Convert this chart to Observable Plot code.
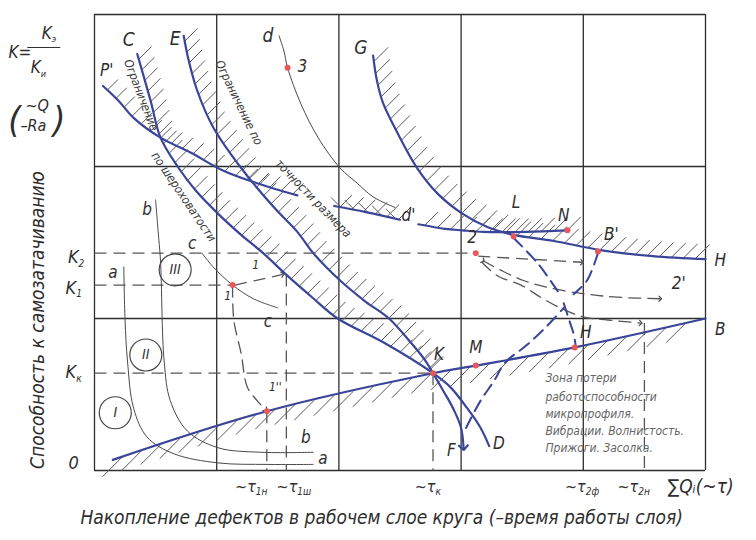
<!DOCTYPE html>
<html><head><meta charset="utf-8">
<script src="https://cdn.jsdelivr.net/npm/d3@7"></script>
<script src="https://cdn.jsdelivr.net/npm/@observablehq/plot@0.6"></script>
<style>body{margin:0;background:#fff}svg{display:block}</style>
</head><body><div id="chart"></div>
<script>
// ---- data (grid units: x 0..5 columns, y 0..3 rows) ----
const gridX = [0, 1, 2, 3, 4, 5];
const gridY = [0, 1, 2, 3];

// blue limit curves
const curveC = [[0.35,2.74],[0.46,2.43],[0.54,2.19],[0.68,2.0],[0.83,1.84],[1.01,1.69],[1.20,1.55],[1.38,1.43],[1.58,1.28],[1.78,1.14],[1.99,1.0],[2.37,0.84],[2.77,0.64],[2.91,0.55],[3.05,0.41],[3.16,0.28],[3.23,0.16]];
const curveE = [[0.73,2.86],[0.77,2.70],[0.84,2.50],[0.97,2.26],[1.20,1.99],[1.47,1.73],[1.66,1.57],[1.79,1.43],[2.01,1.25],[2.22,1.11],[2.41,1.0],[2.59,0.84],[2.71,0.72],[2.77,0.64],[2.85,0.53],[2.94,0.40],[3.00,0.28],[3.02,0.15]];
const curveP = [[0.07,2.53],[0.20,2.43],[0.32,2.32],[0.54,2.19],[0.79,2.09],[1.06,1.97],[1.33,1.89],[1.66,1.81]];
const curveG = [[2.28,2.73],[2.31,2.57],[2.36,2.42],[2.48,2.22],[2.64,1.99],[2.81,1.82],[3.01,1.69],[3.22,1.60],[3.43,1.55],[3.76,1.51],[4.14,1.45],[4.57,1.41],[5.0,1.39]];
const lineD1 = [[1.96,1.74],[2.22,1.70],[2.50,1.65]];
const lineD2 = [[2.65,1.62],[2.87,1.59],[3.01,1.58],[3.18,1.57],[3.53,1.57],[3.87,1.58]];
const lineOB = [[0.15,0.07],[1.41,0.39],[2.77,0.64],[3.12,0.69],[3.93,0.81],[5.0,1.0]];

// blue dashed transitions
const dashLX = [[3.43,1.53],[3.63,1.36],[3.79,1.18]];
const dashBX = [[4.12,1.43],[4.03,1.25],[3.92,1.16]];
const dashXH = [[3.84,1.10],[3.88,1.0],[3.92,0.90],[3.94,0.81]];
const dashFX = [[3.04,0.28],[3.16,0.46],[3.27,0.59],[3.36,0.71],[3.53,0.82],[3.69,0.94],[3.84,1.07]];

// thin grey curves a, b, c, d
const curveA = [[0.24,1.34],[0.25,0.99],[0.27,0.72],[0.32,0.41],[0.43,0.22],[0.65,0.11],[1.01,0.05],[1.42,0.04],[1.79,0.04]];
const curveB = [[0.50,1.78],[0.52,1.58],[0.54,1.38],[0.57,0.72],[0.62,0.46],[0.76,0.26],[1.01,0.15],[1.36,0.12],[1.79,0.12]];
const curveSmallC = [[0.88,1.43],[0.97,1.34],[1.13,1.22],[1.30,1.13],[1.50,1.07]];
const curveD = [[1.51,2.86],[1.55,2.76],[1.58,2.65],[1.69,2.41],[1.83,2.19],[2.01,1.99],[2.15,1.89],[2.28,1.80],[2.46,1.73]];

// black dashed guides
const guideSegs = [
  {x1:0, y1:1.43, x2:3.12, y2:1.43},   // K2
  {x1:0, y1:1.22, x2:1.13, y2:1.22},   // K1
  {x1:0, y1:0.64, x2:2.77, y2:0.64},   // Kk
  {x1:1.41, y1:0.39, x2:1.41, y2:0},   // tau1n
  {x1:1.57, y1:1.29, x2:1.57, y2:0},   // tau1sh
  {x1:2.77, y1:0.64, x2:2.77, y2:0},   // tauk
  {x1:4.50, y1:0.97, x2:4.50, y2:0}    // tau2n
];
const guideArrows = [
  {x1:3.14, y1:1.41, x2:3.99, y2:1.37},
  {x1:1.15, y1:1.22, x2:1.54, y2:1.29}
];
const path1 = [[1.13,1.22],[1.14,0.99],[1.20,0.77],[1.25,0.55],[1.33,0.46],[1.40,0.40]];
const path2a = [[3.18,1.38],[3.32,1.32],[3.51,1.25],[3.73,1.20],[4.03,1.16],[4.28,1.14],[4.63,1.13]];
const path2b = [[3.17,1.37],[3.30,1.28],[3.49,1.22],[3.65,1.14],[3.81,1.07],[4.00,1.01],[4.20,0.99],[4.47,0.97]];

// red points
const points = [
  {n:"3", x:1.58, y:2.65}, {n:"1", x:1.13, y:1.22}, {n:"1''", x:1.41, y:0.39},
  {n:"K", x:2.77, y:0.64}, {n:"M", x:3.12, y:0.69}, {n:"H", x:3.93, y:0.81},
  {n:"2", x:3.12, y:1.43}, {n:"L", x:3.43, y:1.54}, {n:"N", x:3.87, y:1.58},
  {n:"B'", x:4.12, y:1.44}
];

// labels
const curveNames = [
  {t:"C", x:0.28, y:2.83}, {t:"E", x:0.66, y:2.84}, {t:"d", x:1.42, y:2.86}, {t:"G", x:2.18, y:2.78}
];
const pointNames = [
  {t:"3", x:1.70, y:2.66}, {t:"P'", x:0.10, y:2.63}, {t:"d'", x:2.57, y:1.68},
  {t:"L", x:3.45, y:1.76}, {t:"N", x:3.84, y:1.68}, {t:"B'", x:4.23, y:1.55},
  {t:"H", x:5.12, y:1.38}, {t:"2", x:3.09, y:1.53}, {t:"2'", x:4.78, y:1.23},
  {t:"B", x:5.12, y:0.93}, {t:"H", x:4.02, y:0.91}, {t:"M", x:3.12, y:0.81},
  {t:"K", x:2.82, y:0.76}, {t:"F", x:2.92, y:0.13}, {t:"D", x:3.31, y:0.18},
  {t:"a", x:0.15, y:1.30}, {t:"a", x:1.87, y:0.08}, {t:"b", x:0.43, y:1.72},
  {t:"b", x:1.73, y:0.22}, {t:"c", x:0.80, y:1.49}, {t:"c", x:1.42, y:0.98}
];
const smallNames = [
  {t:"1", x:1.32, y:1.35}, {t:"1", x:1.09, y:1.15}, {t:"1''", x:1.48, y:0.55}
];
const zones = [{t:"I", x:0.17, y:0.38}, {t:"II", x:0.42, y:0.76}, {t:"III", x:0.66, y:1.32}];
const limitTexts = [
  {t:"Ограничение", x:0.38, y:2.47, a:69},
  {t:"по шероховатости", x:0.73, y:1.80, a:56},
  {t:"Ограничение по", x:1.18, y:2.42, a:64},
  {t:"точности размера", x:1.79, y:1.79, a:46}
];
const zoneText = [
  "Зона потери", "работоспособности", "микропрофиля.", "Вибрации. Волнистость.", "Прижоги. Засолка."
];
const zoneTextX = 3.69, zoneTextY = [0.61, 0.48, 0.37, 0.26, 0.145];

const yTicks = [
  {main:"K", sub:"2", x:-0.13, y:1.40},
  {main:"K", sub:"1", x:-0.15, y:1.20},
  {main:"K", sub:"к", x:-0.15, y:0.645}
];
const xTicks = [
  {main:"~τ", sub:"1н", x:1.32},
  {main:"~τ", sub:"1ш", x:1.66},
  {main:"~τ", sub:"к", x:2.79},
  {main:"~τ", sub:"2ф", x:4.02},
  {main:"~τ", sub:"2н", x:4.45}
];
const xTickY = -0.11;
const yTitle = "Способность к самозатачиванию";
const xTitle = "Накопление дефектов в рабочем слое круга (–время работы слоя)";

// ---- layout ----
const W = 756, H = 540, ML = 94, MR = 51, MT = 14, MB = 70;
const SX = (W - ML - MR) / 5, SY = (H - MT - MB) / 3;
const BLUE = "#3a4599", GREY = "#555", RED = "#e8585a", INK = "#2e2e2e";
const FONT = "'DejaVu Sans Condensed','Liberation Sans Narrow','DejaVu Sans',sans-serif";

const rows = arr => arr.map(([x, y]) => ({x, y}));
function hatch(arr, spacing, len, deg) {
  const a = deg * Math.PI / 180, ux = Math.cos(a) * len / SX, uy = Math.sin(a) * len / SY;
  const out = []; let carry = spacing * 0.5;
  for (let i = 1; i < arr.length; i++) {
    const [x0, y0] = arr[i - 1], [x1, y1] = arr[i];
    const d = Math.hypot((x1 - x0) * SX, (y1 - y0) * SY);
    let s = carry;
    while (s <= d) {
      const t = s / d, x = x0 + (x1 - x0) * t, y = y0 + (y1 - y0) * t;
      out.push({x1: x, y1: y, x2: x + ux, y2: y + uy});
      s += spacing;
    }
    carry = s - d;
  }
  return out;
}
const hatches = [
  ...hatch(curveC.slice(0, 13), 11, 18, 45),
  ...hatch(curveE.slice(0, 14), 11, 18, 45),
  ...hatch(curveP, 12, 15, 45),
  ...hatch(curveG, 12, 20, 45),
  ...hatch(lineD1, 12, 17, 45),
  ...hatch(lineD1, 14, 14, 135),
  ...hatch(lineD2, 13, 19, 45),
  ...hatch(lineOB, 20, 28, 225)
];

const txt = (data, size, extra = {}) => Plot.text(data, {x: "x", y: "y", text: "t", fontSize: size, fontStyle: "italic", fill: INK, ...extra});
const solid = (arr, extra = {}) => Plot.line(rows(arr), {x: "x", y: "y", curve: "catmull-rom", stroke: BLUE, strokeWidth: 2.2, ...extra});
const thin = arr => Plot.line(rows(arr), {x: "x", y: "y", curve: "catmull-rom", stroke: "#4a4a4a", strokeWidth: 1});
const bdash = arr => Plot.line(rows(arr), {x: "x", y: "y", curve: "catmull-rom", stroke: BLUE, strokeWidth: 2, strokeDasharray: "12,7"});
const gdash = (arr, extra = {}) => Plot.line(rows(arr), {x: "x", y: "y", curve: "catmull-rom", stroke: GREY, strokeWidth: 1.3, strokeDasharray: "12,7", ...extra});

const chart = Plot.plot({
  width: W, height: H, marginLeft: ML, marginRight: MR, marginTop: MT, marginBottom: MB,
  x: {domain: [0, 5], axis: null},
  y: {domain: [0, 3], axis: null},
  style: {fontFamily: FONT, background: "#fff"},
  marks: [
    Plot.ruleX(gridX, {stroke: INK, strokeWidth: 1.3}),
    Plot.ruleY(gridY, {stroke: INK, strokeWidth: 1.3}),
    Plot.link(hatches, {x1: "x1", y1: "y1", x2: "x2", y2: "y2", stroke: "#5a5a5a", strokeWidth: 1}),
    Plot.link(guideSegs, {x1: "x1", y1: "y1", x2: "x2", y2: "y2", stroke: GREY, strokeWidth: 1.3, strokeDasharray: "12,7"}),
    Plot.link(guideArrows, {x1: "x1", y1: "y1", x2: "x2", y2: "y2", stroke: GREY, strokeWidth: 1.3, strokeDasharray: "12,7", markerEnd: "arrow"}),
    gdash(path1, {markerEnd: "arrow"}),
    gdash(path2a, {markerEnd: "arrow", markerStart: "arrow"}),
    gdash(path2b, {markerEnd: "arrow"}),
    thin(curveA), thin(curveB), thin(curveSmallC), thin(curveD),
    solid(curveC), solid(curveE, {markerEnd: "arrow"}), solid(curveP), solid(curveG),
    solid(lineD1), solid(lineD2), solid(lineOB),
    bdash(dashLX), bdash(dashBX), bdash(dashXH), bdash(dashFX),
    Plot.dot(points, {x: "x", y: "y", r: 3, fill: RED}),
    Plot.dot(zones, {x: "x", y: "y", r: 16, stroke: "#444", strokeWidth: 1.2, fill: "none"}),
    txt(zones, 14),
    txt(curveNames, 19),
    txt(pointNames, 17),
    txt(smallNames, 12),
    Plot.text(limitTexts, {x: "x", y: "y", text: "t", rotate: "a", fontSize: 12, fontStyle: "italic", fill: "#3a3a3a"}),
    Plot.text(zoneText, {x: () => zoneTextX, y: (d, i) => zoneTextY[i], text: d => d, textAnchor: "start", fontSize: 12, fontStyle: "italic", fill: "#666"}),
    // y tick labels
    Plot.text(yTicks, {x: "x", y: "y", text: "main", textAnchor: "end", fontSize: 18, fontStyle: "italic", fill: INK}),
    Plot.text(yTicks, {x: "x", y: "y", text: "sub", textAnchor: "start", dy: 6, fontSize: 10, fontStyle: "italic", fill: INK}),
    Plot.text([{t: "0", x: -0.17, y: 0.05}], {x: "x", y: "y", text: "t", fontSize: 18, fontStyle: "italic", fill: INK}),
    // x tick labels
    Plot.text(xTicks, {x: "x", y: () => xTickY, text: "main", textAnchor: "end", fontSize: 16, fontStyle: "italic", fill: INK}),
    Plot.text(xTicks, {x: "x", y: () => xTickY, text: "sub", textAnchor: "start", dy: 5, fontSize: 10, fontStyle: "italic", fill: INK}),
    Plot.text([{t: "∑Qᵢ(~τ)", x: 4.96, y: -0.11}], {x: "x", y: "y", text: "t", fontSize: 19, fontStyle: "italic", fill: INK}),
    // titles
    Plot.text([xTitle], {x: () => 2.35, y: () => -0.31, text: d => d, fontSize: 19, fontStyle: "italic", fill: INK}),
    Plot.text([yTitle], {x: () => -0.46, y: () => 0.99, text: d => d, rotate: -90, fontSize: 19, fontStyle: "italic", fill: INK}),
    // formula K = Kэ / Kи and (~Q / -Ra)
    Plot.text([{t: "K=", x: -0.61, y: 2.75}], {x: "x", y: "y", text: "t", fontSize: 17, fontStyle: "italic", fill: INK}),
    Plot.text([{t: "K", x: -0.35, y: 2.875}, {t: "K", x: -0.44, y: 2.65}], {x: "x", y: "y", text: "t", textAnchor: "end", fontSize: 17, fontStyle: "italic", fill: INK}),
    Plot.text([{t: "э", x: -0.35, y: 2.875}, {t: "и", x: -0.44, y: 2.65}], {x: "x", y: "y", text: "t", textAnchor: "start", dy: 6, fontSize: 9, fontStyle: "italic", fill: INK}),
    Plot.link([{x1: -0.55, x2: -0.28, y: 2.783}], {x1: "x1", x2: "x2", y1: "y", y2: "y", stroke: INK, strokeWidth: 1}),
    Plot.text([{t: "(", x: -0.655, y: 2.30}, {t: ")", x: -0.29, y: 2.30}], {x: "x", y: "y", text: "t", fontSize: 36, fontStyle: "italic", fill: INK}),
    Plot.text([{t: "~Q", x: -0.47, y: 2.40}, {t: "–Ra", x: -0.50, y: 2.27}], {x: "x", y: "y", text: "t", fontSize: 16, fontStyle: "italic", fill: INK})
  ]
});
document.getElementById("chart").appendChild(chart);
</script>
</body></html>
